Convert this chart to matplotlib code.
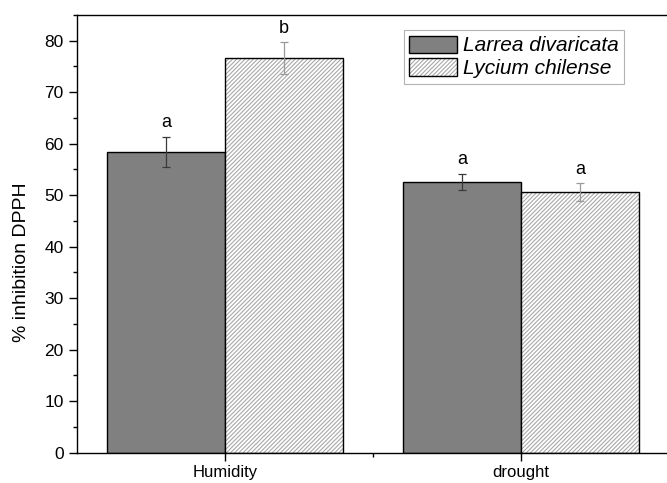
import matplotlib
matplotlib.use('Agg')
import matplotlib.pyplot as plt
import numpy as np
from matplotlib.patches import Patch
from matplotlib.ticker import MultipleLocator

plt.rcParams['font.family'] = ['Liberation Sans', 'DejaVu Sans']
plt.rcParams['hatch.linewidth'] = 0.8

# 数据
conditions = ['Humidity', 'drought']
species = ['Larrea divaricata', 'Lycium chilense']
larrea_mean = [58.4, 52.6]
larrea_err = [3.0, 1.6]
lycium_mean = [76.6, 50.6]
lycium_err = [3.1, 1.7]
larrea_letters = ['a', 'a']
lycium_letters = ['b', 'a']

HATCH = '////////'
HATCH_COLOR = '#a8a8a8'

fig = plt.figure(figsize=(6.67, 4.83), dpi=100)
ax = fig.add_axes([77 / 667, 1 - 452.7 / 483, 592 / 667, (452.7 - 15) / 483])

x = np.arange(1, len(conditions) + 1)
w = 0.4

ax.bar(x - w / 2, larrea_mean, w, color='#808080', edgecolor='black', linewidth=1.0)
# 斜线填充用浅灰色，外框另画黑色
ax.bar(x + w / 2, lycium_mean, w, color='white', edgecolor=HATCH_COLOR, linewidth=0,
       hatch=HATCH)
ax.bar(x + w / 2, lycium_mean, w, fill=False, edgecolor='black', linewidth=1.0)

ax.errorbar(x - w / 2, larrea_mean, yerr=larrea_err, fmt='none', ecolor='#3a3a3a',
            elinewidth=0.9, capsize=3.2, capthick=0.9)
ax.errorbar(x + w / 2, lycium_mean, yerr=lycium_err, fmt='none', ecolor='#9a9a9a',
            elinewidth=0.9, capsize=3.2, capthick=0.9)

# 显著性字母
for xi, m, e, s in zip(x - w / 2, larrea_mean, larrea_err, larrea_letters):
    ax.text(xi, m + e + 1.0, s, ha='center', va='bottom', fontsize=13)
for xi, m, e, s in zip(x + w / 2, lycium_mean, lycium_err, lycium_letters):
    ax.text(xi, m + e + 1.0, s, ha='center', va='bottom', fontsize=13)

ax.set_xlim(0.5, 2.5)
ax.set_ylim(0, 85)
ax.set_xticks(x)
ax.set_xticklabels(conditions, fontsize=12)
ax.set_xticks([1.5], minor=True)
ax.yaxis.set_major_locator(MultipleLocator(10))
ax.yaxis.set_minor_locator(MultipleLocator(5))
ax.tick_params(axis='y', which='major', direction='out', length=6, width=1, labelsize=12.5)
ax.tick_params(axis='y', which='minor', direction='out', length=3, width=1)
ax.tick_params(axis='x', which='major', direction='out', length=6, width=1, pad=3)
ax.tick_params(axis='x', which='minor', direction='out', length=3, width=1)
ax.set_ylabel('% inhibition DPPH', fontsize=14)
ax.yaxis.set_label_coords(-0.08, 0.436)

ax.spines['right'].set_visible(False)
for s in ['left', 'bottom', 'top']:
    ax.spines[s].set_linewidth(1.0)

larrea_handle = Patch(facecolor='#808080', edgecolor='black', linewidth=1.0)
lycium_handle = (Patch(facecolor='white', edgecolor=HATCH_COLOR, linewidth=0, hatch=HATCH),
                 Patch(fill=False, edgecolor='black', linewidth=1.0))
leg = ax.legend([larrea_handle, lycium_handle], species, loc='upper left',
                bbox_to_anchor=(0.552, 0.965),
                prop={'style': 'italic', 'size': 15}, frameon=True, fancybox=False,
                edgecolor='#a0a0a0', handlelength=2.3, handleheight=0.9,
                borderpad=0.25, labelspacing=0.15, handletextpad=0.3, borderaxespad=0)
leg.get_frame().set_linewidth(0.8)

fig.savefig('out.png', dpi=100)
